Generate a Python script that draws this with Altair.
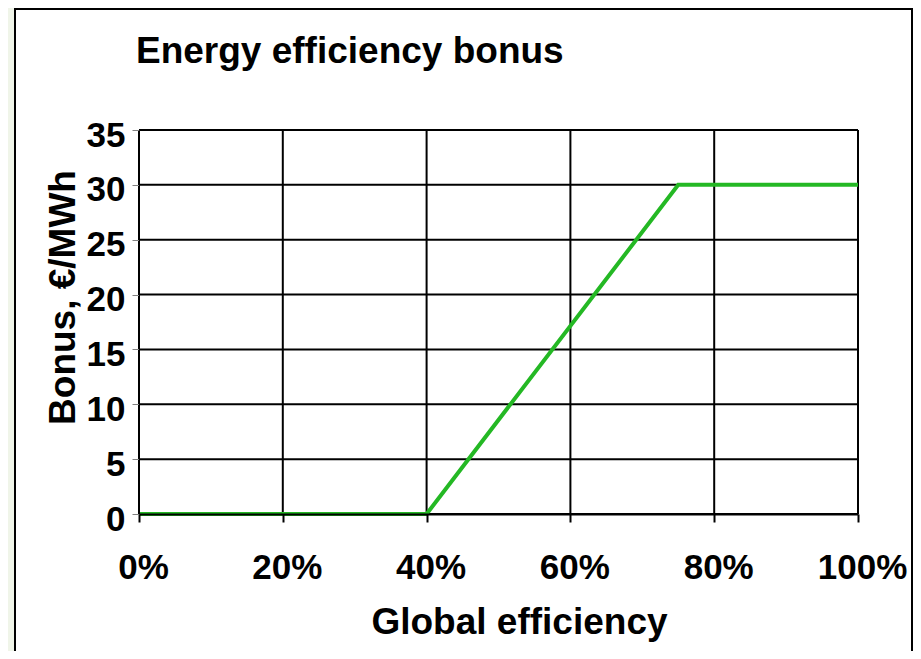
import altair as alt
import pandas as pd

# data
efficiency = [0.0, 0.40, 0.75, 1.00]
bonus = [0, 0, 30, 30]
x_ticks = [0, 0.2, 0.4, 0.6, 0.8, 1.0]
y_ticks = [0, 5, 10, 15, 20, 25, 30, 35]
chart_title = "Energy efficiency bonus"

df = pd.DataFrame({"eff": efficiency, "bonus": bonus})

FONT = "Liberation Sans"

x_axis = alt.Axis(
    values=x_ticks, format=".0%", title="Global efficiency", grid=False, zindex=1,
    domainColor="black", domainWidth=2,
    tickColor="black", tickWidth=2, tickSize=8,
    labelFont=FONT, labelFontSize=35, labelFontWeight="bold", labelColor="black",
    labelPadding=28, labelOffset=4, labelFlush=False, labelOverlap=False,
    titleFont=FONT, titleFontSize=37, titleFontWeight="bold", titleColor="black",
    titleX=380, titleY=119, titleAlign="center", titleBaseline="alphabetic",
)
y_axis = alt.Axis(
    values=y_ticks, title="Bonus, €/MWh", grid=False, zindex=1,
    domainColor="black", domainWidth=1,
    tickColor="#808080", tickWidth=1, tickSize=7,
    labelFont=FONT, labelFontSize=35, labelFontWeight="bold", labelColor="black",
    labelPadding=7, labelOffset=5, labelBaseline="middle", labelOverlap=False,
    titleFont=FONT, titleFontSize=37, titleFontWeight="bold", titleColor="black",
    titleX=-65, titleY=167, titleAngle=270, titleAlign="center",
    titleBaseline="alphabetic",
)
xs = alt.Scale(domain=[0, 1], nice=False)
ys = alt.Scale(domain=[0, 35], nice=False)

frame = alt.Chart(pd.DataFrame({"a": [0]})).mark_rect(
    fill="white", stroke="black", strokeWidth=2, clip=False
).encode(
    x=alt.value(-124), x2=alt.value(773), y=alt.value(-121), y2=alt.value(600)
)

title = alt.Chart(pd.DataFrame({"t": [chart_title]})).mark_text(
    font=FONT, fontSize=37, fontWeight="bold", color="black",
    align="left", baseline="alphabetic",
).encode(text="t:N", x=alt.value(-3), y=alt.value(-67))

hgrid = alt.Chart(pd.DataFrame({"bonus": y_ticks})).mark_rule(
    color="black", strokeWidth=2
).encode(y=alt.Y("bonus:Q", scale=ys, axis=y_axis))

vgrid = alt.Chart(pd.DataFrame({"eff": x_ticks})).mark_rule(
    color="black", strokeWidth=2
).encode(x=alt.X("eff:Q", scale=xs, axis=x_axis))

line = alt.Chart(df).mark_line(color="#24B824", strokeWidth=4).encode(
    x=alt.X("eff:Q", scale=xs, axis=x_axis),
    y=alt.Y("bonus:Q", scale=ys, axis=y_axis),
)

chart = alt.layer(frame, title, hgrid, vgrid, line).properties(
    width=719,
    height=384,
    autosize=alt.AutoSizeParams(type="none"),
    padding={"left": 131, "top": 122, "right": 55, "bottom": 137},
).configure(background="#F0F5E9").configure_view(stroke=None)

chart.save("out.html", embed_options={"renderer": "svg", "actions": False})
